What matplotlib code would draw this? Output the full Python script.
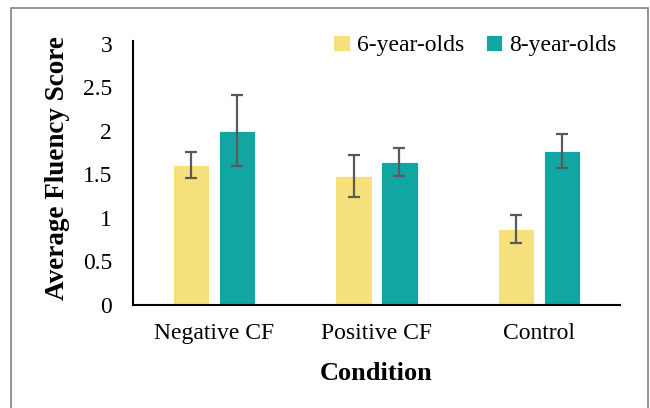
import matplotlib
matplotlib.use("Agg")
import matplotlib.pyplot as plt
from matplotlib.patches import Rectangle
import numpy as np

categories = ["Negative CF", "Positive CF", "Control"]
series_names = ["6-year-olds", "8-year-olds"]
six_means = [1.61, 1.48, 0.87]
six_errs = [0.15, 0.245, 0.16]
eight_means = [2.0, 1.64, 1.77]
eight_errs = [0.41, 0.16, 0.195]
yticks = [0, 0.5, 1, 1.5, 2, 2.5, 3]
ytick_labels = ["0", "0.5", "1", "1.5", "2", "2.5", "3"]

plt.rcParams['font.family'] = ['Liberation Serif', 'DejaVu Serif']

fig = plt.figure(figsize=(6.5, 4.08), dpi=100)
ax = fig.add_axes([133/650, 1-305/408, (620-133)/650, (305-41)/408])

x = np.arange(len(categories))
bw = 0.224
off = 0.1415
yellow = "#F7E17C"
teal = "#11A6A1"
ecol = "#5a5a5a"
ax.bar(x - off, six_means, bw, color=yellow, edgecolor="white", linewidth=0.6, label=series_names[0], zorder=2)
ax.bar(x + off, eight_means, bw, color=teal, edgecolor="white", linewidth=0.6, label=series_names[1], zorder=2)
ax.errorbar(x - off, six_means, yerr=six_errs, fmt='none', ecolor=ecol, elinewidth=1.6, capsize=4, capthick=1.6, zorder=3)
ax.errorbar(x + off, eight_means, yerr=eight_errs, fmt='none', ecolor=ecol, elinewidth=1.6, capsize=4, capthick=1.6, zorder=3)

ax.set_xlim(-0.5, 2.5)
ax.set_ylim(0, 3.03)
ax.set_yticks(yticks)
ax.set_yticklabels(ytick_labels)
ax.set_xticks(x)
ax.set_xticklabels(categories)
ax.tick_params(axis='both', length=0, labelsize=17, colors='black')
ax.tick_params(axis='y', pad=15)
ax.tick_params(axis='x', pad=13)
for s in ['top', 'right']:
    ax.spines[s].set_visible(False)
ax.spines['left'].set_linewidth(1.5)
ax.spines['bottom'].set_linewidth(1.5)

ax.set_xlabel("Condition", fontsize=19, fontweight='bold', labelpad=13)
ax.set_ylabel("Average Fluency Score", fontsize=19.5, fontweight='bold')
ax.yaxis.set_label_coords(-0.13, 0.52)

leg = ax.legend(loc='upper right', bbox_to_anchor=(1.012, 1.06), ncol=2, frameon=False,
                fontsize=17, handlelength=0.7, handleheight=0.7, handletextpad=0.3,
                columnspacing=0.9, borderaxespad=0.0)

fig.patches.append(Rectangle((11/650, -0.05), (648-11)/650, 1.05 - 8/408, transform=fig.transFigure,
                             fill=False, edgecolor="#808080", linewidth=1.2))

fig.savefig("out.png", dpi=100)
